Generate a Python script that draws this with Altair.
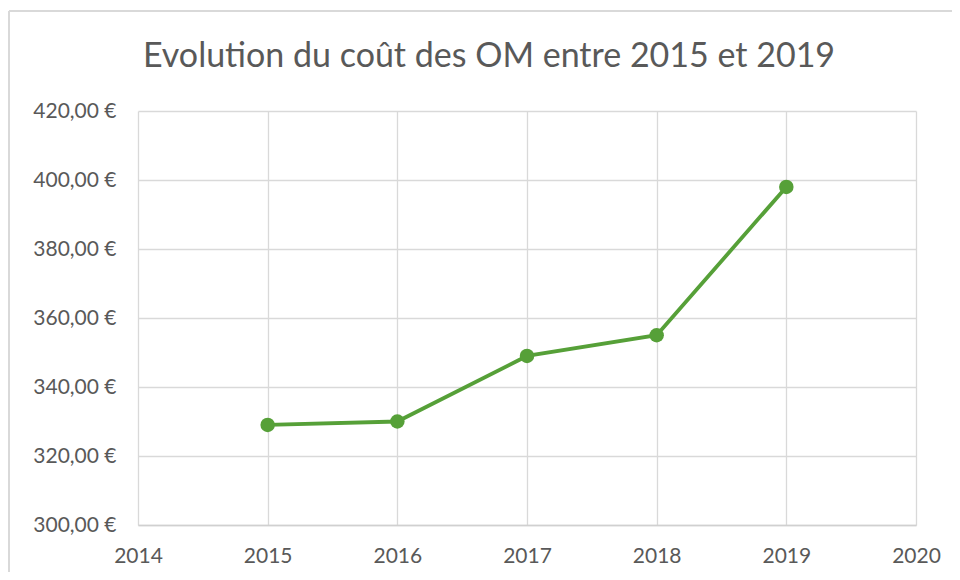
import altair as alt
import pandas as pd

years = [2015, 2016, 2017, 2018, 2019]
costs = [329, 330, 349, 355, 398]
x_ticks = [2014, 2015, 2016, 2017, 2018, 2019, 2020]
y_ticks = [300, 320, 340, 360, 380, 400, 420]
title = "Evolution du coût des OM entre 2015 et 2019"

df = pd.DataFrame({"annee": years, "cout": costs})
title_df = pd.DataFrame({"t": [title]})

GREEN = "#56A038"
GRID = "#D9D9D9"
TXT = "#595959"
FONT = "Lato"

x = alt.X("annee:Q",
          scale=alt.Scale(domain=[2014, 2020], nice=False, zero=False),
          axis=alt.Axis(values=x_ticks, format="d", title=None, grid=True,
                        gridColor=GRID, gridWidth=1.3, domainColor="#D0D0D0",
                        domainWidth=1.5, ticks=False, labelPadding=20,
                        labelFlush=False,
                        labelFontSize=21, labelColor=TXT, labelFont=FONT))
y = alt.Y("cout:Q",
          scale=alt.Scale(domain=[300, 420], nice=False, zero=False),
          axis=alt.Axis(values=y_ticks, title=None, grid=True, gridColor=GRID,
                        gridWidth=1.3, domain=False, ticks=False, labelPadding=22,
                        labelFlush=False,
                        labelFontSize=21, labelColor=TXT, labelFont=FONT,
                        labelExpr="replace(format(datum.value, '.2f'), '.', ',') + ' €'"))

line = alt.Chart(df).mark_line(color=GREEN, strokeWidth=3.8).encode(x=x, y=y)
pts = alt.Chart(df).mark_point(color=GREEN, filled=True, opacity=1, size=210).encode(x=x, y=y)

frame_top = alt.Chart(df).mark_rule(color="#D9D9D9", strokeWidth=1.5).encode(
    x=alt.value(-129), x2=alt.value(830), y=alt.value(-100))
frame_left = alt.Chart(df).mark_rule(color="#D9D9D9", strokeWidth=1.5).encode(
    x=alt.value(-129), y=alt.value(-100), y2=alt.value(470))

title_mark = alt.Chart(title_df).mark_text(
    fontSize=34, font=FONT, color=TXT, align="center", baseline="alphabetic"
).encode(text="t:N", x=alt.value(351), y=alt.value(-44))

chart = alt.layer(line, pts, frame_top, frame_left, title_mark).properties(
    width=778, height=414,
    autosize=alt.AutoSizeParams(type="none"),
    padding={"left": 130, "top": 103, "right": 36, "bottom": 47},
).configure_view(stroke=None)

chart.save("out.html", embed_options={"renderer": "svg", "actions": False})
